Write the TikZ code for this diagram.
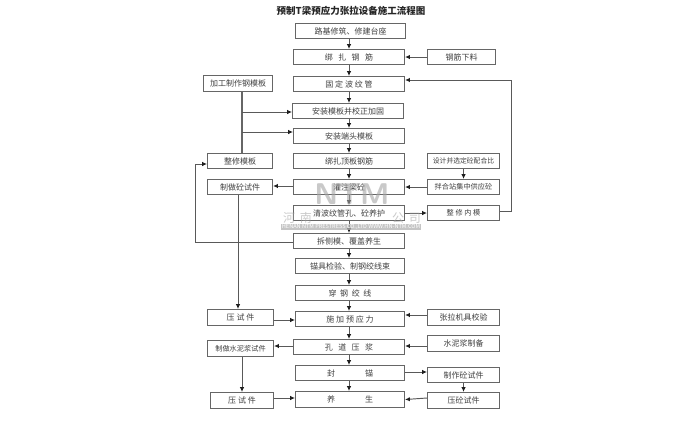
\documentclass[tikz,border=0pt]{standalone}
\usepackage{fontspec}
\setmainfont{Noto Sans CJK SC}
\usetikzlibrary{arrows.meta}
\tikzset{
 x=1pt,y=-1pt,
 fbox/.style={draw=black!60,line width=1.05pt,fill=white,inner sep=0pt,font=\fontsize{8}{9}\selectfont,text=black!75},
 flow/.style={draw=black!65,line width=0.95pt,-{Latex[length=4.8pt,width=4.4pt,color=black!88]}},
 plain/.style={draw=black!60,line width=1.05pt},
 wmark/.style={text=black!35,text opacity=0.6,inner sep=0pt}
}
\newcommand{\fb}[7]{\node[fbox,minimum width=\the\dimexpr#4pt-#3pt\relax,minimum height=\the\dimexpr#6pt-#5pt\relax,anchor=north west] (#2) at (#3,#5) {#7};}
\begin{document}
\begin{tikzpicture}
\useasboundingbox (0,0) rectangle (700,434);
\fill[white] (0,0) rectangle (700,434);
\node[font=\fontsize{9.5}{11}\selectfont\bfseries,text=black!85,inner sep=0pt] (title) at (351,11) {预制T梁预应力张拉设备施工流程图};
% centre
\fb{}{a1}{295}{405}{23}{38}{路基修筑、修建台座}
\fb{}{a2}{293}{404}{49}{64}{绑\ \ \ 扎\ \ \ 钢\ \ \ 筋}
\fb{}{a3}{293}{404}{76}{91}{固\ 定\ 波\ 纹\ 管}
\fb{}{a4}{292}{403}{103}{118}{安装模板并校正加固}
\fb{}{a5}{293}{404}{128}{143}{安装端头模板}
\fb{}{a6}{293}{404}{153}{168}{绑扎顶板钢筋}
\fb{}{a7}{293}{404}{179}{194}{灌注梁砼}
\fb{}{a8}{293}{404}{205}{220}{清波纹管孔、砼养护}
\fb{}{a9}{293}{404}{233}{248}{拆侧模、覆盖养生}
\fb{}{a10}{295}{404}{258}{273}{锚具检验、制钢绞线束}
\fb{}{a11}{295}{404}{285}{300}{穿\ \ 钢\ \ 绞\ \ 线}
\fb{}{a12}{295}{404}{311}{326}{施\ 加\ 预\ 应\ 力}
\fb{}{a13}{293}{404}{339}{354}{孔\ \ \ 道\ \ \ 压\ \ \ 浆}
\fb{}{a14}{295}{404}{365}{380}{封\hspace{30pt}锚}
\fb{}{a15}{295}{404}{391}{407}{养\hspace{30pt}生}
% right
\fb{}{r1}{427}{495}{49}{64}{钢筋下料}
\fb{}{r2}{427}{499}{153}{168}{\fontsize{6.8}{8}\selectfont 设计并选定砼配合比}
\fb{}{r3}{427}{499}{179}{194}{\fontsize{7.2}{8}\selectfont 拌合站集中供应砼}
\fb{}{r4}{427}{499}{205}{220}{\fontsize{7.2}{8}\selectfont 整\ 修\ 内\ 模}
\fb{}{r5}{427}{499}{309}{325}{张拉机具校验}
\fb{}{r6}{427}{499}{335}{351}{水泥浆制备}
\fb{}{r7}{427}{499}{367}{382}{制作砼试件}
\fb{}{r8}{427}{499}{392}{408}{压砼试件}
% left
\fb{}{l1}{203}{272}{75}{91}{加工制作钢模板}
\fb{}{l2}{207}{272}{153}{168}{整修模板}
\fb{}{l3}{207}{272}{179}{194}{制做砼试件}
\fb{}{l4}{207}{273}{309}{325}{压\ 试\ 件}
\fb{}{l5}{207}{273}{340}{356}{\fontsize{7.2}{8}\selectfont 制做水泥浆试件}
\fb{}{l6}{210}{273}{392}{408}{压\ 试\ 件}
% centre chain
\foreach \p/\q in {a1/a2,a2/a3,a3/a4,a4/a5,a5/a6,a6/a7,a7/a8,a8/a9,a9/a10,a10/a11,a11/a12,a12/a13,a13/a14,a14/a15}
  \draw[flow] (\p.south -| 349,0) -- (\q.north -| 349,0);
% right to centre
\draw[flow] (r1.west) -- (a2.east);
\draw[flow] (r2) -- (r3);
\draw[flow] (r3.west) -- (a7.east |- r3.west);
\draw[flow] (a8.east) -- (r4.west);
\draw[flow] (r5.west |- 0,315) -- (a12.east |- 0,315);
\draw[flow] (r6.west |- 0,346) -- (a13.east |- 0,346);
\draw[flow] (a14.east |- 0,372) -- (r7.west |- 0,372);
\draw[flow] (r7) -- (r8);
\draw[flow] (r8.west |- 0,398) -- (a15.west -| a15.east |- 0,398);
% feedback
\coordinate (c1) at (511,211);
\coordinate (c2) at (511,80);
\draw[flow] (r4.east |- c1) -- (c1) -- (c2) -- (a3.east |- c2);
% left side
\draw[plain] (l1.south -| 242,0) -- (l2.north -| 242,0);
\coordinate (j1) at (242,112);
\coordinate (j2) at (242,132);
\draw[flow] (j1) -- (a4.west |- j1);
\draw[flow] (j2) -- (a5.west |- j2);
\coordinate (c3) at (195,242);
\coordinate (c4) at (195,164);
\draw[flow] (a9.west |- c3) -- (c3) -- (c4) -- (l2.west |- c4);
\draw[flow] (a7.west |- 0,186) -- (l3.east |- 0,186);
\draw[flow] (l3.south -| 238,0) -- (l4.north -| 238,0);
\draw[flow] (l4.east |- 0,320) -- (a12.west |- 0,320);
\draw[flow] (a13.west |- 0,346) -- (l5.east |- 0,346);
\draw[flow] (l5.south -| 242,0) -- (l6.north -| 242,0);
\draw[flow] (l6.east |- 0,398) -- (a15.west |- 0,398);
% watermark
\node[wmark,font=\fontsize{30}{30}\selectfont\bfseries\sffamily] (wm1) at (352,194) {NTM};
\node[wmark,font=\fontsize{12}{13}\selectfont] (wm2) at (352,218) {河\hspace{5pt}南\hspace{80pt}公\hspace{5pt}司};
\node[wmark,fill=black!30,fill opacity=0.75,text=white,text opacity=1,inner sep=0.8pt,font=\fontsize{5.6}{6}\selectfont] (wm3) at (351,227) {HENAN NTM PRESTRESS CO.,LTD  WWW.HN-NTM.COM};
\end{tikzpicture}
\end{document}
